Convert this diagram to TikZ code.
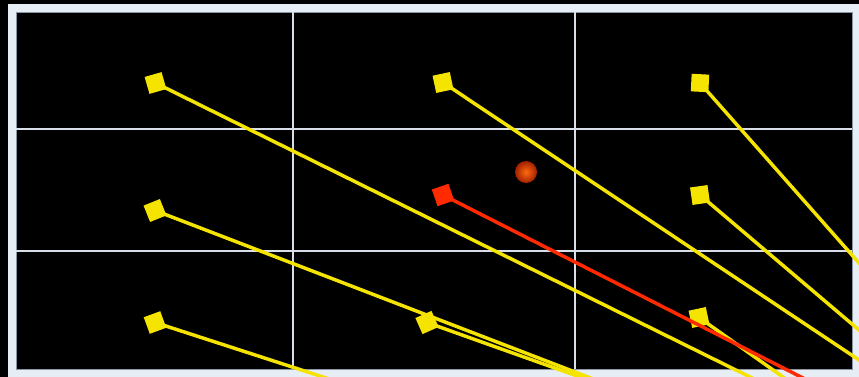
\documentclass[tikz,border=0pt]{standalone}
\usetikzlibrary{calc}
\definecolor{frame}{HTML}{E6EDF5}
\definecolor{edge}{HTML}{8A96A4}
\definecolor{gridc}{HTML}{D8DFE8}
\definecolor{yel}{HTML}{F5E400}
\definecolor{redl}{HTML}{FF2A00}
\definecolor{ballin}{HTML}{FF6A10}
\definecolor{ballout}{HTML}{A02000}
\tikzset{
  sq/.style={fill=yel, minimum size=13.2pt, inner sep=0pt, outer sep=0pt, draw=none, rectangle},
  rsq/.style={sq, fill=redl},
  ray/.style={draw=yel, line width=2.6pt},
  rray/.style={draw=redl, line width=2.6pt},
  gridl/.style={draw=gridc, line width=1.7pt}
}
\begin{document}
\begin{tikzpicture}[x=0.75pt,y=-0.75pt]
\useasboundingbox (0,0) rectangle (859,377);
\clip (0,0) rectangle (859,377);
\fill[black] (0,0) rectangle (859,377);
\fill[frame] (8,4) rectangle (859,377);
\fill[black] (16,12) rectangle (852,369);
\draw[edge, line width=0.6pt] (16,12) rectangle (852,369);
% grid
\coordinate (g1t) at (293,12); \coordinate (g1b) at (293,369);
\coordinate (g2t) at (575,12); \coordinate (g2b) at (575,369);
\coordinate (h1l) at (16,129); \coordinate (h1r) at (852,129);
\coordinate (h2l) at (16,251); \coordinate (h2r) at (852,251);
\draw[gridl] (g1t) -- (g1b);
\draw[gridl] (g2t) -- (g2b);
\draw[gridl] (h1l) -- (h1r);
\draw[gridl] (h2l) -- (h2r);
% end points
\coordinate (e1) at (750,377);
\coordinate (e2) at (859,360);
\coordinate (e3) at (859,263);
\coordinate (e4) at (588,377);
\coordinate (e5) at (801,377);
\coordinate (e6) at (859,330);
\coordinate (e7) at (323,377);
\coordinate (e8) at (580,377);
\coordinate (e9) at (783,377);
% squares positions
\coordinate (c1) at (155.5,83);
\coordinate (c2) at (443,82.5);
\coordinate (c3) at (700,83);
\coordinate (c4) at (155,210.5);
\coordinate (c5) at (443,195);
\coordinate (c6) at (700,195);
\coordinate (c7) at (155,322.5);
\coordinate (c8) at (427,322.5);
\coordinate (c9) at (699,317.5);
% yellow rays
\draw[ray] (c1) -- ($(c1)!1.08!(e1)$);
\draw[ray] (c2) -- ($(c2)!1.08!(e2)$);
\draw[ray] (c3) -- ($(c3)!1.08!(e3)$);
\draw[ray] (c4) -- ($(c4)!1.08!(e4)$);
\draw[ray] (c6) -- ($(c6)!1.08!(e6)$);
\draw[ray] (c7) -- ($(c7)!1.08!(e7)$);
\draw[ray] (c8) -- ($(c8)!1.08!(e8)$);
\draw[ray] (c9) -- ($(c9)!1.08!(e9)$);
% yellow squares
\node[sq, rotate=16] (s1) at (c1) {};
\node[sq, rotate=12] (s2) at (c2) {};
\node[sq, rotate=-3] (s3) at (c3) {};
\node[sq, rotate=22] (s4) at (c4) {};
\node[sq, rotate=8] (s6) at (c6) {};
\node[sq, rotate=20] (s7) at (c7) {};
\node[sq, rotate=24] (s8) at (c8) {};
\node[sq, rotate=12] (s9) at (c9) {};
% red ray and square
\draw[rray] (c5) -- ($(c5)!1.08!(e5)$);
\node[rsq, rotate=19] (s5) at (c5) {};
% ball
\node[circle, minimum size=16.5pt, inner sep=0pt, draw=none, inner color=ballin, outer color=ballout] (ball) at (526,172) {};
\end{tikzpicture}
\end{document}
